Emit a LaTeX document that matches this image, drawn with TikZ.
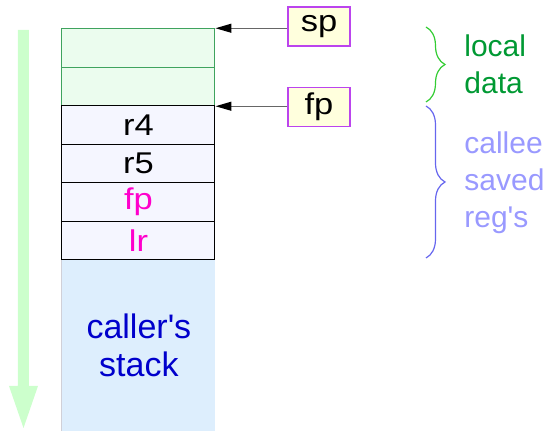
\documentclass[tikz,border=0pt]{standalone}
\usepackage{fontspec}
\setmainfont{Liberation Sans}[Ligatures=TeXOff]
\newfontfamily\widefont{Liberation Sans}[FakeStretch=1.15, Ligatures=TeXOff]
\usetikzlibrary{arrows.meta,decorations.pathreplacing}
\definecolor{gfill}{HTML}{EBFCEE}
\definecolor{gdraw}{HTML}{3FA35E}
\definecolor{rfill}{HTML}{F5F6FF}
\definecolor{cfill}{HTML}{DDEEFD}
\definecolor{cborder}{HTML}{D0D0D8}
\definecolor{arrgreen}{HTML}{CCFFCC}
\definecolor{pfill}{HTML}{FFFFDD}
\definecolor{pdraw}{HTML}{BB44EE}
\definecolor{magtext}{HTML}{FF00CC}
\definecolor{loctext}{HTML}{009933}
\definecolor{caltext}{HTML}{9999FF}
\definecolor{gbrace}{HTML}{33CC33}
\definecolor{bbrace}{HTML}{6666EE}
\definecolor{stacktext}{HTML}{0000CC}
\definecolor{ptr}{HTML}{666666}
\begin{document}
\begin{tikzpicture}[x=0.5pt,y=-0.5pt,
  every node/.style={font=\fontsize{15}{18.5}\selectfont},
  locrow/.style={draw=gdraw, fill=gfill, line width=0.5pt, minimum width=76.5pt, minimum height=19.25pt, inner sep=0pt},
  regrow/.style={draw=black, fill=rfill, line width=0.5pt, minimum width=76.5pt, minimum height=19.25pt, inner sep=0pt, font=\widefont\fontsize{15}{18}\selectfont},
  ptrbox/.style={draw=pdraw, fill=pfill, line width=0.6pt, minimum width=31pt, minimum height=19.5pt, inner sep=0pt, font=\widefont\fontsize{15}{18}\selectfont},
  ptrline/.style={draw=ptr, line width=0.6pt, -{Triangle[length=8pt,width=4.5pt,fill=black,color=black]}},
  bracestyle/.style={decorate, decoration={brace, amplitude=9.5pt}, line width=0.6pt}
]
\useasboundingbox (0,0) rectangle (554,431);
% growth arrow
\fill[arrgreen] (18,30) -- (29,30) -- (29,386) -- (38,386) -- (23.5,428) -- (9,386) -- (18,386) -- cycle;
% caller's stack
\node[fill=cfill, minimum width=76.5pt, minimum height=86pt, inner sep=0pt, anchor=north west,
      text=stacktext, align=center, font=\fontsize{17}{19}\selectfont] (caller) at (62,259) {caller's\\stack};
\draw[cborder, line width=0.5pt] (caller.north west) -- (caller.south west);
% rows
\node[locrow] (l1) at (138.5,48) {};
\node[locrow] (l2) at (138.5,86.5) {};
\node[regrow] (r4) at (138.5,125) {r4};
\node[regrow] (r5) at (138.5,163.5) {r5};
\node[regrow, text=magtext] (rfp) at (138.5,202) {fp};
\node[regrow, text=magtext] (rlr) at (138.5,240.5) {lr};
% pointer boxes
\node[ptrbox] (sp) at (319,26.5) {sp};
\node[ptrbox] (fp) at (319,107) {fp};
\draw[ptrline] (sp.west |- l1.north east) -- (l1.north east);
\draw[ptrline] (fp.west |- l2.south east) -- (l2.south east);
% braces
\coordinate (g1) at (426,27);
\coordinate (g2) at (426,102);
\coordinate (b1) at (426,106);
\coordinate (b2) at (426,258);
\draw[bracestyle, gbrace] (g1) -- (g2);
\draw[bracestyle, bbrace] (b1) -- (b2);
\node[anchor=west, inner sep=0pt, text=loctext, align=left] (loc) at (464,64) {local\\data};
\node[anchor=west, inner sep=0pt, text=caltext, align=left] (cal) at (464,183) {callee\\saved\\reg's};
\end{tikzpicture}
\end{document}
